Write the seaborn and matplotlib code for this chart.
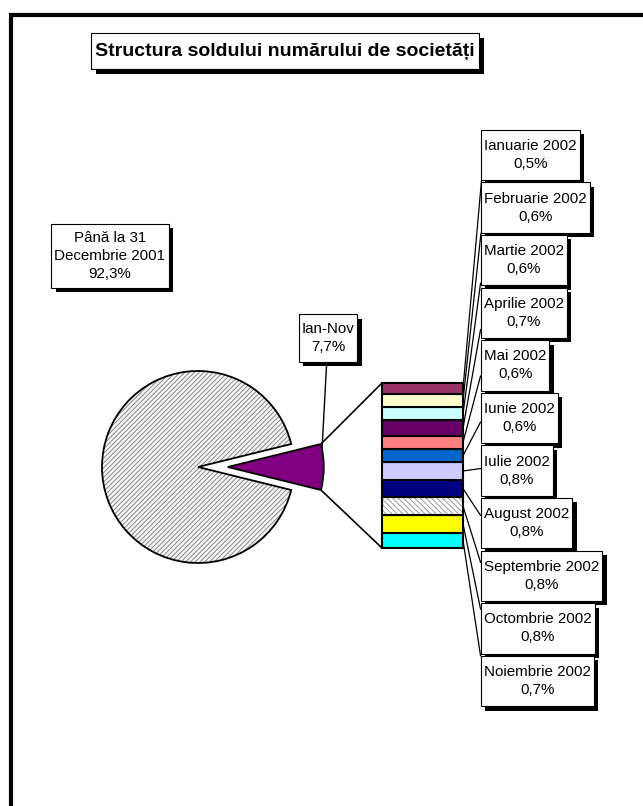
import numpy as np
import matplotlib
matplotlib.use("Agg")
import matplotlib.pyplot as plt
import matplotlib.patheffects as pe
from matplotlib.patches import Wedge, ConnectionPatch
from matplotlib.path import Path
from matplotlib.lines import Line2D
import seaborn as sns

# ---------------- data ----------------
title = "Structura soldului numărului de societăți"
pie_labels = ["Până la 31\nDecembrie 2001", "Ian-Nov"]
pie_values = [92.3, 7.7]
month_labels = ["Ianuarie 2002", "Februarie 2002", "Martie 2002", "Aprilie 2002",
                "Mai 2002", "Iunie 2002", "Iulie 2002", "August 2002",
                "Septembrie 2002", "Octombrie 2002", "Noiembrie 2002"]
month_values = [0.5, 0.6, 0.6, 0.7, 0.6, 0.6, 0.8, 0.8, 0.8, 0.8, 0.7]
month_colors = ["#993366", "#FFFFCC", "#CCFFFF", "#660066", "#FF8080", "#0066CC",
                "#CCCCFF", "#000080", "#FFFFFF", "#FFFF00", "#00FFFF"]
month_hatches = [None, None, None, None, None, None, None, None, "\\\\\\\\\\\\", None, None]

def fmt(v):
    return f"{v:.1f}".replace(".", ",") + "%"

# ---------------- style ----------------
sns.set_theme(style="white")
plt.rcParams["font.family"] = ["Liberation Sans", "DejaVu Sans"]
plt.rcParams["text.color"] = "black"
plt.rcParams["hatch.linewidth"] = 0.6

W, H = 643, 806
fig = plt.figure(figsize=(W / 100, H / 100), dpi=100)
fig.patch.set_facecolor("white")

def fr(x, y):
    return x / W, 1 - y / H

def make_box(padx, pady):
    def style(x0, y0, width, height, mutation_size):
        px, py = padx * mutation_size, pady * mutation_size
        x0, y0 = x0 - px, y0 - py
        x1, y1 = x0 + width + 2 * px, y0 + height + 2 * py
        return Path([(x0, y0), (x1, y0), (x1, y1), (x0, y1), (x0, y0)],
                    closed=True)
    return dict(boxstyle=style, fc="white", ec="black", lw=0.8)

# frame lines (left and top)
fig.add_artist(Line2D([10.5 / W, 10.5 / W], [0, 1 - 13 / H], color="black", lw=3,
                      solid_capstyle="butt", transform=fig.transFigure))
fig.add_artist(Line2D([9 / W, 1], [1 - 14.5 / H, 1 - 14.5 / H], color="black", lw=3,
                      solid_capstyle="butt", transform=fig.transFigure))

shadow = [pe.withSimplePatchShadow(offset=(3.2, -3.2), shadow_rgbFace="black", alpha=1.0)]

# ---------------- pie ----------------
u = 96.0
cx, cy = 198, 467
pl, pr, pt, pb = 70, 350, 360, 580
ax_pie = fig.add_axes([pl / W, 1 - pb / H, (pr - pl) / W, (pb - pt) / H])
start = pie_values[1] / sum(pie_values) * 180
wedges, _ = ax_pie.pie(pie_values, startangle=start, explode=[0, 0.31],
                       colors=["none", "#800080"], radius=1,
                       wedgeprops=dict(edgecolor="black", linewidth=1.3))
w0 = wedges[0]
hatch_w = Wedge(w0.center, w0.r, w0.theta1, w0.theta2, facecolor="#f4f4f4",
                edgecolor="#7a7a7a", hatch="///////", linewidth=0, zorder=0)
ax_pie.add_patch(hatch_w)
w0.set_zorder(2)
ax_pie.set_xlim((pl - cx) / u, (pr - cx) / u)
ax_pie.set_ylim((cy - pb) / u, (cy - pt) / u)
ax_pie.set_aspect("auto")
ax_pie.axis("off")

# ---------------- stacked bar ----------------
bl, br, bt, bb = 382, 463, 383, 548
ax_bar = fig.add_axes([bl / W, 1 - bb / H, (br - bl) / W, (bb - bt) / H])
total = sum(month_values)
bottoms = np.cumsum([0] + month_values[::-1][:-1])
vals_rev = month_values[::-1]
cols_rev = month_colors[::-1]
hat_rev = month_hatches[::-1]
centers = {}
for i, (v, b, c, h) in enumerate(zip(vals_rev, bottoms, cols_rev, hat_rev)):
    bars = ax_bar.bar(0, v, bottom=b, width=1, color=c, edgecolor="black",
                      linewidth=1.5, hatch=h, clip_on=False)
    if h:
        bars[0].set_edgecolor("#8a8a8a")
        ax_bar.bar(0, v, bottom=b, width=1, color="none", edgecolor="black",
                   linewidth=1.5, clip_on=False)
    centers[month_labels[::-1][i]] = b + v / 2
ax_bar.set_xlim(-0.5, 0.5)
ax_bar.set_ylim(0, total)
ax_bar.axis("off")

# connector lines pie -> bar
w1 = wedges[1]
c1 = np.array(w1.center)
for ang, ybar in [(w1.theta2, total), (w1.theta1, 0)]:
    p = c1 + w1.r * np.array([np.cos(np.radians(ang)), np.sin(np.radians(ang))])
    con = ConnectionPatch(xyA=tuple(p), coordsA=ax_pie.transData,
                          xyB=(-0.5, ybar), coordsB=ax_bar.transData,
                          color="black", lw=1.2)
    fig.add_artist(con)

# ---------------- labels ----------------
fs = 10.9
ls = 1.38
box = make_box(0.2, 0.6)
for i, (lab, v) in enumerate(zip(month_labels, month_values)):
    yc = 155 + i * 52.6
    t = ax_bar.annotate(f"{lab}\n{fmt(v)}", xy=(0.5, centers[lab]), xycoords="data",
                        xytext=(484, H - yc), textcoords="figure pixels",
                        ha="left", va="center", multialignment="center",
                        fontsize=fs, linespacing=ls, bbox=box, color="black",
                        arrowprops=dict(arrowstyle="-", color="black", lw=0.9,
                                        relpos=(0, 0.58), shrinkA=0, shrinkB=0),
                        annotation_clip=False)
    t.get_bbox_patch().set_path_effects(shadow)

# big slice label
t = fig.text(*fr(110, 256), f"{pie_labels[0]}\n{fmt(pie_values[0])}", ha="center", va="center",
             fontsize=fs, linespacing=ls, multialignment="center", bbox=make_box(0.2, 0.45),
             color="black")
t.get_bbox_patch().set_path_effects(shadow)

# small slice label with leader line
ang = np.radians(w1.theta2 - 3)
pt_arc = c1 + w1.r * np.array([np.cos(ang), np.sin(ang)])
t = ax_pie.annotate(f"{pie_labels[1]}\n{fmt(pie_values[1])}", xy=tuple(pt_arc), xycoords="data",
                    xytext=(328, H - 338), textcoords="figure pixels",
                    ha="center", va="center", fontsize=fs, linespacing=ls,
                    multialignment="center", bbox=make_box(0.2, 0.5), color="black",
                    arrowprops=dict(arrowstyle="-", color="black", lw=1.0, shrinkA=0, shrinkB=0),
                    annotation_clip=False)
t.get_bbox_patch().set_path_effects(shadow)

# title
t = fig.text(*fr(285, 51), title, ha="center", va="center", fontsize=14.0, fontweight="bold",
             color="black", bbox=make_box(0.2, 0.5))
t.get_bbox_patch().set_path_effects([pe.withSimplePatchShadow(offset=(3.6, -3.6),
                                                              shadow_rgbFace="black", alpha=1.0)])

fig.savefig("out.png", dpi=100, facecolor="white")
